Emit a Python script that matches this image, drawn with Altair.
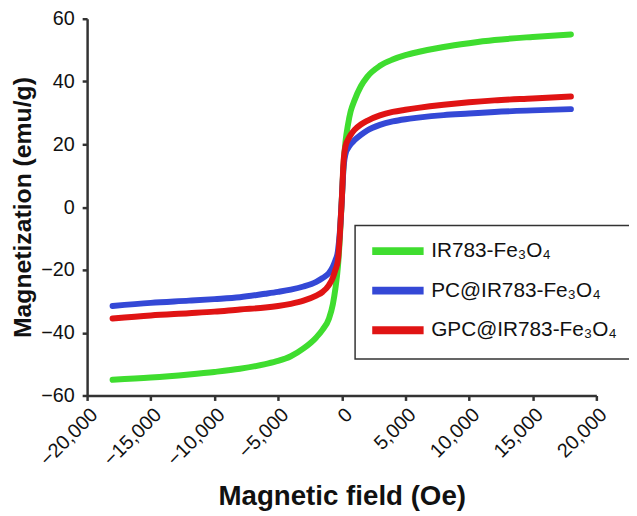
import altair as alt
import pandas as pd

field = [-18000, -15000, -12000, -10000, -8000, -6000, -5000, -4000, -3000, -2000,
         -1500, -1000, -700, -500, -300, -150, 0, 150, 300, 500, 700, 1000, 1500,
         2000, 3000, 4000, 5000, 6000, 8000, 10000, 12000, 15000, 18000]

green = [-55.0, -54.3, -53.3, -52.5, -51.5, -50.0, -49.0, -47.5, -45.0, -41.5,
         -39.0, -35.5, -31.0, -26.0, -19.0, -10.0, 2.0, 14.0, 21.0, 26.5, 30.5, 34.0, 38.5,
         41.5, 45.0, 47.0, 48.4, 49.4, 51.0, 52.2, 53.2, 54.2, 55.0]

blue = [-31.5, -30.5, -29.8, -29.3, -28.7, -27.6, -27.0, -26.3, -25.3, -23.8,
        -22.6, -21.0, -19.0, -17.0, -14.0, -8.0, 2.0, 13.0, 17.0, 18.8, 20.0, 21.3, 23.0,
        24.4, 26.2, 27.3, 28.0, 28.5, 29.3, 29.8, 30.3, 30.8, 31.2]

red = [-35.5, -34.5, -33.8, -33.3, -32.6, -32.0, -31.5, -30.8, -29.8, -28.2,
       -27.0, -24.8, -22.5, -20.0, -17.0, -9.0, 2.0, 15.0, 19.5, 21.5, 23.0, 24.6, 26.3,
       27.5, 29.2, 30.3, 31.0, 31.6, 32.6, 33.4, 34.0, 34.6, 35.2]

names = ["IR783-Fe\u2083O\u2084", "PC@IR783-Fe\u2083O\u2084", "GPC@IR783-Fe\u2083O\u2084"]
colors = ["#3fdd2f", "#3448d6", "#e01414"]

rows = []
for name, vals in zip(names, [green, blue, red]):
    for h, m in zip(field, vals):
        rows.append({"sample": name, "H": h, "M": m})
df = pd.DataFrame(rows)

font = "Liberation Sans"

chart = alt.Chart(df).mark_line(strokeWidth=6, strokeCap="round", strokeJoin="round",
                                interpolate="monotone").encode(
    x=alt.X("H:Q",
            scale=alt.Scale(domain=[-20000, 20000], nice=False),
            axis=alt.Axis(values=list(range(-20000, 20001, 5000)), format=",d",
                          labelAngle=315, labelFontSize=20, labelFont=font, labelColor="#111",
                          labelPadding=4, labelOverlap=False,
                          title="Magnetic field (Oe)", titleFontSize=28, titleFont=font,
                          titleFontWeight="bold", titleColor="#111",
                          titleY=110, titleBaseline="alphabetic")),
    y=alt.Y("M:Q",
            scale=alt.Scale(domain=[-60, 60], nice=False),
            axis=alt.Axis(values=list(range(-60, 61, 20)), format="d",
                          labelFontSize=20, labelFont=font, labelColor="#111", labelPadding=8,
                          labelOverlap=False,
                          title="Magnetization (emu/g)", titleFontSize=25, titleFont=font,
                          titleFontWeight="bold", titleColor="#111", titleX=-52,
                          titleBaseline="bottom")),
    color=alt.Color("sample:N",
                    scale=alt.Scale(domain=names, range=colors),
                    sort=names,
                    legend=alt.Legend(orient="none", legendX=271, legendY=209, title=None,
                                      symbolType="M-1,0L5,0", symbolSize=300, symbolStrokeWidth=8,
                                      labelFontSize=21, labelFont=font, labelColor="#111",
                                      labelOffset=38, rowPadding=8, padding=13, labelLimit=500,
                                      strokeColor="#333", fillColor="white")),
    order=alt.Order("H:Q"),
).properties(
    width=515, height=381,
    autosize=alt.AutoSizeParams(type="none"),
    padding={"left": 80, "top": 8, "right": 33, "bottom": 116},
).configure_view(stroke=None).configure_axis(
    domainColor="#333", domainWidth=2.5, tickColor="#333", tickWidth=2.5, tickSize=5,
    grid=False
).configure_legend(strokeWidth=1.5)

chart.save("out.html", embed_options={"renderer": "svg", "actions": False})
